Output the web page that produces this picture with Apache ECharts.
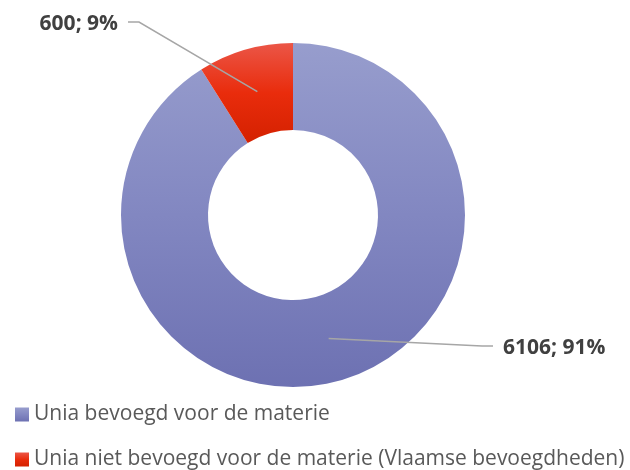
<!DOCTYPE html>
<html>
<head>
<meta charset="utf-8">
<script src="https://cdn.jsdelivr.net/npm/echarts@6/dist/echarts.min.js"></script>
<style>
  html, body { margin: 0; padding: 0; background: #fff; }
  #main { width: 630px; height: 470px; }
</style>
</head>
<body>
<div id="main"></div>
<script>
// data
var categories = ['Unia bevoegd voor de materie', 'Unia niet bevoegd voor de materie (Vlaamse bevoegdheden)'];
var counts = [6106, 600];
var percents = [91, 9];

// colors (top -> middle -> bottom gradient per slice)
var colorTop = ['#979dcd', '#eb5647'];
var colorMid = ['#8287c1', '#e92c0c'];
var colorBottom = ['#6d71b2', '#d42100'];

// where the labels sit (x, y, align)
var labelSpots = [
    { x: 503, y: 348, align: 'left' },
    { x: 118, y: 24, align: 'right' }
];

var cx = 293, cy = 215, rOuter = 172, rInner = 85;
var rLine = (rOuter + rInner) / 2;

var pieData = categories.map(function (name, i) {
    return {
        name: name,
        value: counts[i],
        itemStyle: {
            color: new echarts.graphic.LinearGradient(0, 0, 0, 1, [
                { offset: 0, color: colorTop[i] },
                { offset: 0.5, color: colorMid[i] },
                { offset: 1, color: colorBottom[i] }
            ])
        }
    };
});

// same slices again, invisible, only to carry the labels above the ring
var labelData = categories.map(function (name, i) {
    return { name: name, value: counts[i], pct: percents[i] };
});

var myChart = echarts.init(document.getElementById('main'), null, { renderer: 'canvas' });
myChart.setOption({
    animation: false,
    legend: {
        orient: 'vertical',
        left: 15,
        top: 404,
        height: 70,
        padding: 0,
        itemWidth: 14,
        itemHeight: 14,
        itemGap: 24,
        icon: 'rect',
        textStyle: { fontFamily: 'Open Sans', fontSize: 21, color: '#595959' },
        data: categories
    },
    series: [{
        type: 'pie',
        center: [cx, cy],
        radius: [rInner, rOuter],
        startAngle: 90,
        clockwise: true,
        legendHoverLink: false,
        label: { show: false },
        labelLine: { show: false },
        data: pieData
    }, {
        type: 'pie',
        center: [cx, cy],
        radius: [rInner, rOuter],
        startAngle: 90,
        clockwise: true,
        silent: true,
        legendHoverLink: false,
        z: 3,
        itemStyle: { color: 'rgba(0,0,0,0)' },
        data: labelData,
        label: {
            show: true,
            position: 'outside',
            formatter: function (p) { return p.value + '; ' + p.data.pct + '%'; },
            fontFamily: 'Open Sans',
            fontWeight: 'bold',
            fontSize: 21,
            color: '#404040'
        },
        labelLine: {
            show: true,
            length: 20,
            length2: 20,
            lineStyle: { color: '#a6a6a6', width: 1.5 }
        },
        labelLayout: function (params) {
            var spot = labelSpots[params.dataIndex];
            var p0 = params.labelLinePoints ? params.labelLinePoints[0] : [cx, cy];
            var k = rLine / Math.hypot(p0[0] - cx, p0[1] - cy);
            var start = [cx + (p0[0] - cx) * k, cy + (p0[1] - cy) * k];
            var dir = spot.align === 'left' ? -1 : 1;
            var end = [spot.x + dir * 10, spot.y - 2];
            var elbow = [end[0] + dir * 11, end[1]];
            return {
                x: spot.x,
                y: spot.y,
                align: spot.align,
                verticalAlign: 'middle',
                labelLinePoints: [start, elbow, end]
            };
        }
    }]
});
</script>
</body>
</html>
